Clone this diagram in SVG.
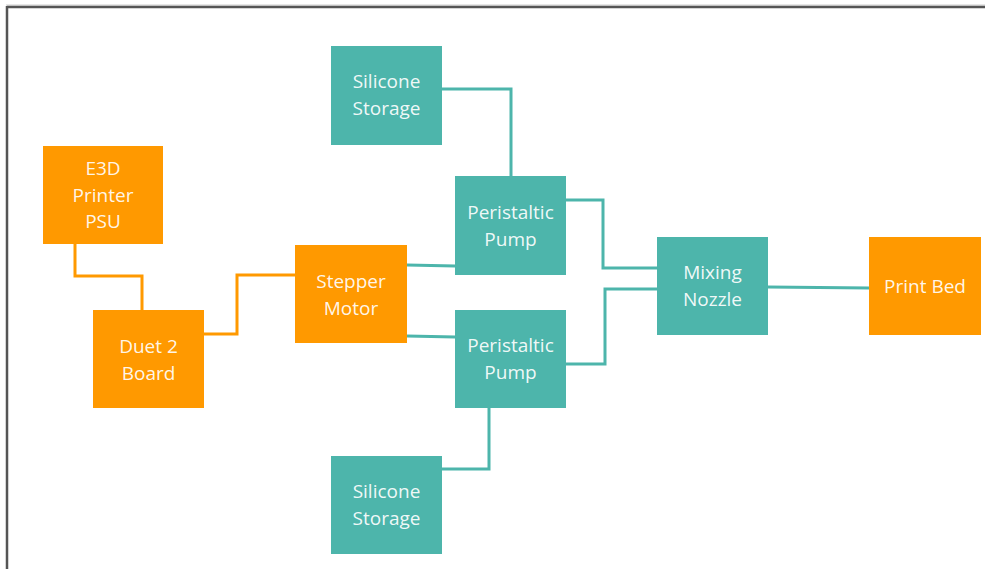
<svg xmlns="http://www.w3.org/2000/svg" width="985" height="569" viewBox="0 0 985 569">
<style>
.o{fill:#FF9900}
.t{fill:#4DB5AB}
text{font-family:"Open Sans","Noto Sans","Liberation Sans",sans-serif;font-size:19px;fill:#FFFFFF;fill-opacity:0.93;text-anchor:middle}
.co{fill:none;stroke:#FF9900;stroke-width:3}
.ct{fill:none;stroke:#4DB5AB;stroke-width:3}
</style>
<rect x="0" y="0" width="985" height="569" fill="#FFFFFF"/>
<line x1="6" y1="5" x2="985" y2="5" stroke="#CCCCCC" stroke-width="1"/>
<line x1="7" y1="7" x2="985" y2="7" stroke="#555555" stroke-width="2.5"/>
<line x1="7" y1="6" x2="7" y2="569" stroke="#555555" stroke-width="2.5"/>
<g id="connectors">
<polyline class="co" points="75,244 75,276 142,276 142,310"/>
<polyline class="co" points="204,334 237,334 237,275 295,275"/>
<polyline class="ct" points="407,265 455,266"/>
<polyline class="ct" points="407,336 455,337"/>
<polyline class="ct" points="442,89 511,89 511,176"/>
<polyline class="ct" points="442,469 489,469 489,408"/>
<polyline class="ct" points="566,200 603,200 603,268 657,268"/>
<polyline class="ct" points="566,364 605,364 605,289 657,289"/>
<polyline class="ct" points="768,287 869,288"/>
</g>
<g id="e3d"><rect class="o" x="43" y="146" width="120" height="98"/><text x="103" y="175">E3D</text><text x="103" y="202">Printer</text><text x="103" y="228">PSU</text></g>
<g id="duet"><rect class="o" x="93" y="310" width="111" height="98"/><text x="148.5" y="353">Duet 2</text><text x="148.5" y="380">Board</text></g>
<g id="stepper"><rect class="o" x="295" y="245" width="112" height="98"/><text x="351" y="288">Stepper</text><text x="351" y="315">Motor</text></g>
<g id="silicone1"><rect class="t" x="331" y="46" width="111" height="99"/><text x="386.5" y="88">Silicone</text><text x="386.5" y="115">Storage</text></g>
<g id="pump1"><rect class="t" x="455" y="176" width="111" height="99"/><text x="510.5" y="219">Peristaltic</text><text x="510.5" y="246">Pump</text></g>
<g id="pump2"><rect class="t" x="455" y="310" width="111" height="98"/><text x="510.5" y="352">Peristaltic</text><text x="510.5" y="379">Pump</text></g>
<g id="silicone2"><rect class="t" x="331" y="456" width="111" height="98"/><text x="386.5" y="498">Silicone</text><text x="386.5" y="525">Storage</text></g>
<g id="mixing"><rect class="t" x="657" y="237" width="111" height="98"/><text x="712.5" y="279">Mixing</text><text x="712.5" y="306">Nozzle</text></g>
<g id="printbed"><rect class="o" x="869" y="237" width="112" height="98"/><text x="925" y="293">Print Bed</text></g>
</svg>
